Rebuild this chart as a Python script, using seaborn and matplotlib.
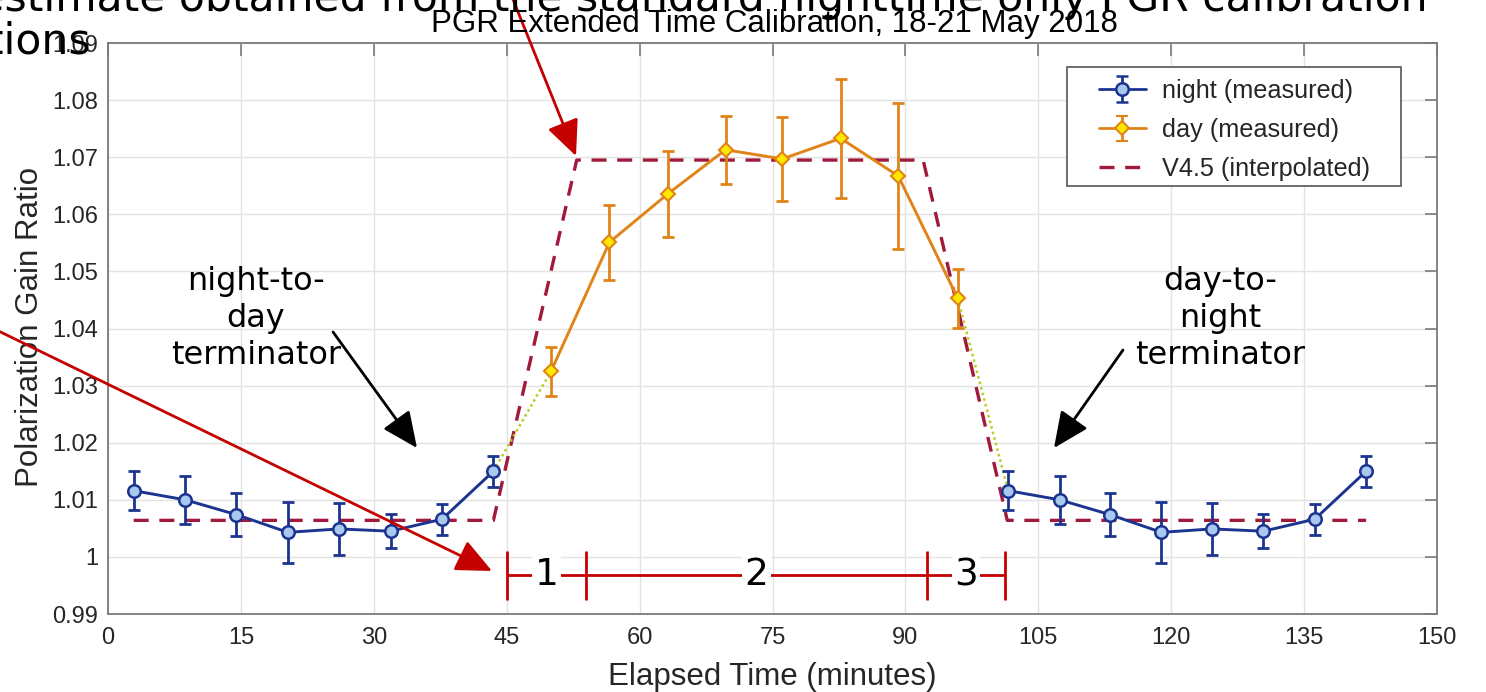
import numpy as np
import pandas as pd
import matplotlib
matplotlib.use("Agg")
import matplotlib.pyplot as plt
from matplotlib.patches import FancyArrowPatch, Rectangle
import seaborn as sns

# ---------------- data ----------------
night_left_t = [2.9, 8.7, 14.5, 20.3, 26.1, 31.9, 37.7, 43.5]
night_right_t = [101.6, 107.4, 113.1, 118.9, 124.6, 130.4, 136.2, 142.0]
night_vals = [1.0116, 1.0100, 1.0074, 1.0043, 1.0049, 1.0045, 1.0066, 1.0150]
night_err = [0.0034, 0.0042, 0.0038, 0.0053, 0.0046, 0.0030, 0.0027, 0.0027]

day_t = [50.0, 56.6, 63.2, 69.7, 76.1, 82.7, 89.2, 95.9]
day_vals = [1.0325, 1.0551, 1.0636, 1.0713, 1.0697, 1.0733, 1.0667, 1.0453]
day_err = [0.0043, 0.0066, 0.0075, 0.0060, 0.0074, 0.0104, 0.0128, 0.0052]

v45_t = [2.9, 43.5, 52.9, 92.0, 101.5, 142.0]
v45_vals = [1.0064, 1.0064, 1.0695, 1.0695, 1.0064, 1.0064]

interval_edges = [45.0, 54.0, 92.4, 101.2]
interval_labels = ["1", "2", "3"]
interval_level = 0.9968

x_ticks = [0, 15, 30, 45, 60, 75, 90, 105, 120, 135, 150]
y_ticks = [0.99, 1.00, 1.01, 1.02, 1.03, 1.04, 1.05, 1.06, 1.07, 1.08, 1.09]

title = "PGR Extended Time Calibration, 18-21 May 2018"
xlabel = "Elapsed Time (minutes)"
ylabel = "Polarization Gain Ratio"
legend_labels = ["night (measured)", "day (measured)", "V4.5 (interpolated)"]

# ---------------- style ----------------
sns.set_theme(style="whitegrid")
plt.rcParams["font.family"] = ["Liberation Sans", "DejaVu Sans"]

W, H = 1486, 692
fig = plt.figure(figsize=(W / 100, H / 100), dpi=100)
AX_L, AX_R, AX_T, AX_B = 108, 1437, 43, 614
ax = fig.add_axes([AX_L / W, 1 - AX_B / H, (AX_R - AX_L) / W, (AX_B - AX_T) / H])
ax.set_facecolor("white")

def fx(px):
    return px / W

def fy(py):
    return 1 - py / H

NIGHT = "#1c3490"
NIGHT_FACE = "#a9c8ee"
DAY = "#e08418"
DAY_FACE = "#ffe800"
V45 = "#a11a3c"
GREEN = "#bccc22"
RED = "#c40000"
DASH = [4.5, 3.2]

# V4.5 dashed
df_v = pd.DataFrame({"t": v45_t, "v": v45_vals})
sns.lineplot(data=df_v, x="t", y="v", ax=ax, color=V45, linewidth=2.4,
             sort=False, zorder=2)
ax.lines[-1].set_dashes(DASH)

# dotted connectors
ax.plot([night_left_t[-1], day_t[0]], [night_vals[-1], day_vals[0]],
        color=GREEN, lw=1.8, ls=(0, (1, 1.3)), zorder=2.5)
ax.plot([day_t[-1], night_right_t[0]], [day_vals[-1], night_vals[0]],
        color=GREEN, lw=1.8, ls=(0, (1, 1.3)), zorder=2.5)

# night series
for tt in (night_left_t, night_right_t):
    ax.errorbar(tt, night_vals, yerr=night_err, fmt="none", ecolor=NIGHT,
                elinewidth=2.0, capsize=4, capthick=2.0, zorder=3)
    sns.lineplot(x=tt, y=night_vals, ax=ax, color=NIGHT, linewidth=2.1,
                 marker="o", markersize=9, markerfacecolor=NIGHT_FACE,
                 markeredgecolor=NIGHT, markeredgewidth=1.8, zorder=4)

# day series
ax.errorbar(day_t, day_vals, yerr=day_err, fmt="none", ecolor=DAY,
            elinewidth=2.0, capsize=4, capthick=2.0, zorder=3)
sns.lineplot(x=day_t, y=day_vals, ax=ax, color=DAY, linewidth=2.1,
             marker="D", markersize=6.8, markerfacecolor=DAY_FACE,
             markeredgecolor=DAY, markeredgewidth=1.5, zorder=4)

# legend proxies
h1 = ax.errorbar([np.nan], [np.nan], yerr=[np.nan], fmt="-o", color=NIGHT,
                 lw=2.0, markersize=9, markerfacecolor=NIGHT_FACE,
                 markeredgecolor=NIGHT, markeredgewidth=1.8, capsize=4,
                 capthick=2.0, elinewidth=2.0)
h2 = ax.errorbar([np.nan], [np.nan], yerr=[np.nan], fmt="-D", color=DAY,
                 lw=2.0, markersize=6.8, markerfacecolor=DAY_FACE,
                 markeredgecolor=DAY, markeredgewidth=1.5, capsize=4,
                 capthick=2.0, elinewidth=2.0)
h3, = ax.plot([np.nan], [np.nan], color=V45, lw=2.4, dashes=DASH)

# legend box (MATLAB style, wide padding)
fig.add_artist(Rectangle((fx(1067), fy(186)), fx(1401) - fx(1067), fy(67) - fy(186),
                         transform=fig.transFigure, facecolor="white",
                         edgecolor="#555555", lw=1.2, zorder=4))
leg = fig.legend([h1, h2, h3], legend_labels, loc="center left",
                 bbox_to_anchor=(fx(1099), fy(130)), fontsize=18.2,
                 frameon=False, handlelength=1.85, handletextpad=0.65,
                 labelspacing=0.6, borderpad=0, borderaxespad=0)
leg.set_zorder(5)
for t in leg.get_texts():
    t.set_color("#262626")

# interval markers
ax.hlines(interval_level, interval_edges[0], interval_edges[-1], color=RED,
          lw=2.0, zorder=3)
ax.vlines(interval_edges, interval_level - 0.0043, interval_level + 0.0043,
          color=RED, lw=2.0, zorder=3)
for i, lab in enumerate(interval_labels):
    mid = (interval_edges[i] + interval_edges[i + 1]) / 2
    ax.text(mid, interval_level, lab, ha="center", va="center", fontsize=27,
            family="DejaVu Sans", color="black", zorder=5,
            bbox=dict(facecolor="white", edgecolor="none", pad=1.5))

# axes formatting
ax.set_xlim(0, 150)
ax.set_ylim(0.99, 1.09)
ax.set_xticks(x_ticks)
ax.set_yticks(y_ticks)
ax.set_yticklabels(["%g" % v for v in y_ticks])
ax.grid(True, color="#e3e3e3", lw=1.0)
for s in ax.spines.values():
    s.set_color("#7a7a7a")
    s.set_linewidth(1.3)
    s.set_visible(True)
ax.tick_params(direction="in", top=True, right=True, length=9, width=1.2,
               color="#7a7a7a", labelsize=17, labelcolor="#262626")
ax.tick_params(axis="x", pad=9)
ax.tick_params(axis="y", pad=7)
ax.set_xlabel(xlabel, fontsize=22.5, color="#262626")
ax.set_ylabel(ylabel, fontsize=22.5, color="#262626")
ax.xaxis.set_label_coords(0.5, (AX_B - 677) / (AX_B - AX_T))
ax.xaxis.label.set_va("center")
ax.yaxis.set_label_coords((30 - AX_L) / (AX_R - AX_L), 0.5 + (328.5 - 326.5) / (AX_B - AX_T))
ax.yaxis.label.set_va("center")

fig.text(fx(774), fy(24), title, ha="center", va="center", fontsize=22.5,
         color="black")

# terminator annotations
fig.text(fx(256), fy(318), "night-to-\nday\nterminator", ha="center",
         va="center", fontsize=23, family="DejaVu Sans", linespacing=1.25,
         color="black")
fig.text(fx(1220), fy(318), "day-to-\nnight\nterminator", ha="center",
         va="center", fontsize=23, family="DejaVu Sans", linespacing=1.25,
         color="black")
blk = dict(arrowstyle="-|>,head_length=1.1,head_width=0.5", color="black",
           lw=2.0, mutation_scale=20, shrinkA=0, shrinkB=0)
fig.add_artist(FancyArrowPatch((fx(333), fy(332)), (fx(417), fy(448)),
                               transform=fig.transFigure, **blk))
fig.add_artist(FancyArrowPatch((fx(1123), fy(350)), (fx(1054), fy(448)),
                               transform=fig.transFigure, **blk))

# red arrows
red = dict(arrowstyle="-|>,head_length=1.1,head_width=0.5", color=RED,
           lw=2.0, mutation_scale=20, shrinkA=0, shrinkB=0)
fig.add_artist(FancyArrowPatch((fx(-20), fy(322)), (fx(492), fy(571)),
                               transform=fig.transFigure, **red))
fig.add_artist(FancyArrowPatch((fx(510), fy(-8)), (fx(576), fy(156)),
                               transform=fig.transFigure, **red))

# cropped overlay text (runs off the figure edges as in the reference)
fig.text(fx(1428), fy(11), "V4.5 estimate obtained from the standard nighttime only PGR calibration",
         ha="right", va="baseline", fontsize=30.6, family="DejaVu Sans", color="black")
fig.text(fx(91), fy(54), "operations", ha="right", va="baseline", fontsize=30.6,
         family="DejaVu Sans", color="black")

fig.savefig("out.png", dpi=100, facecolor="white")
